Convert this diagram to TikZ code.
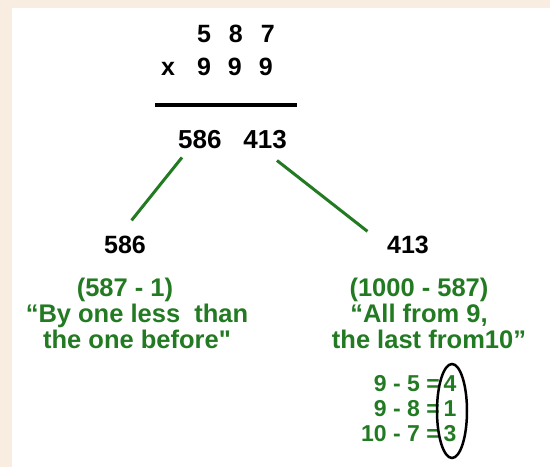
\documentclass[tikz,border=0pt]{standalone}
\usepackage{fontspec}
\setmainfont{Liberation Sans}
\newfontfamily\plainquote{Liberation Sans}
\usetikzlibrary{positioning,shapes.geometric}
\definecolor{paper}{RGB}{249,236,225}
\definecolor{leafgreen}{RGB}{34,122,34}
\newcommand{\px}[1]{\fontsize{#1}{#1}\selectfont\bfseries}

\begin{document}
\begin{tikzpicture}[x=1pt,y=-1pt,
  num/.style={inner sep=0pt,font=\px{25}},
  bignum/.style={inner sep=0pt,font=\px{26}},
  note/.style={inner sep=0pt,text=leafgreen,align=center,font=\fontsize{25.5}{26}\selectfont\bfseries},
  eqn/.style={inner sep=0pt,text=leafgreen,font=\px{23}},
  link/.style={draw=leafgreen,line width=3pt},
  ring/.style={draw=black,ellipse,line width=2.5pt,inner sep=0pt,minimum width=30pt,minimum height=94pt}]
  \fill[paper] (0,0) rectangle (550,467);
  \fill[white] (12,8) rectangle (550,467);
  \useasboundingbox (0,0) rectangle (550,467);
  \node[num,anchor=base east] (top) at (275,42) {5\hspace{18pt}8\hspace{18pt}7};
  \node[num,anchor=base east] (times) at (273,75) {x\hspace{22pt}9\hspace{17pt}9\hspace{17pt}9};
  \draw[line width=3.5pt] (155,105) -- (297,105);
  \node[bignum,anchor=base west] (prodA) at (178,148) {586};
  \node[bignum,anchor=base east] (prodB) at (287,148) {413};
  \node[num,anchor=base] (leftval) at (125,253) {586};
  \node[num,anchor=base] (rightval) at (408,253) {413};
  \draw[link] ([shift={(4,9)}]prodA.south west) -- ([shift={(-14.5,-15)}]leftval.north east);
  \draw[link] ([shift={(-10,12)}]prodB.south east) -- ([shift={(-19.5,-4)}]rightval.north west);
  \node[note,anchor=north] (leftnote) at (137,278) {(587 - 1)\hspace*{24pt}\\“By one less\ \ than\\the one before{\plainquote\bfseries"}};
  \node[note,anchor=north] (rightnote) at (419,278) {(1000 - 587)\\“All from 9,\hspace*{14pt}\\\hspace*{20pt}the last from10”};
  \node[eqn,anchor=base east] (eqA) at (440,391) {9 - 5 =};
  \node[eqn,anchor=base east] (eqB) at (440,416) {9 - 8 =};
  \node[eqn,anchor=base east] (eqC) at (440,441) {10 - 7 =};
  \node[eqn,anchor=base] (digA) at (450,391) {4};
  \node[eqn,anchor=base] (digB) at (450,416) {1};
  \node[eqn,anchor=base] (digC) at (450,441) {3};
  \node[ring] (loop) at (452,411) {};
\end{tikzpicture}
\end{document}
